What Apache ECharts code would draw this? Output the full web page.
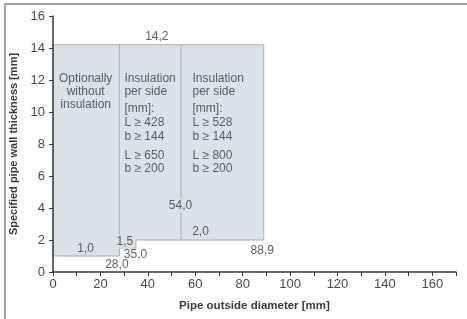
<!DOCTYPE html>
<html>
<head>
<meta charset="utf-8">
<script src="https://cdn.jsdelivr.net/npm/echarts@6/dist/echarts.min.js"></script>
<style>
html, body { margin: 0; padding: 0; background: #fff; }
#frame { position: absolute; left: 4px; top: 3px; width: 463px; height: 316px;
         border-top: 2px solid #a3a3a3; border-left: 2px solid #a3a3a3; box-sizing: border-box; }
#chart { position: absolute; left: 0; top: 0; width: 467px; height: 319px; }
</style>
</head>
<body>
<div id="frame"></div>
<div id="chart"></div>
<script>
// outline of the permitted range: pipe outside diameter [mm] / wall thickness [mm]
const areaX = [0, 88.9, 88.9, 35, 35, 28, 28, 0];
const areaY = [14.2, 14.2, 2.0, 2.0, 1.5, 1.5, 1.0, 1.0];

// zone dividers (diameter where the insulation rule changes)
const dividerX = [28, 54];
const dividerBottom = [1.5, 2.0];

// value labels shown on the chart
const markValues = [14.2, 1.0, 28.0, 1.5, 35.0, 54.0, 2.0, 88.9];

// zone descriptions
const zoneTexts = [
    ['Optionally', 'without', 'insulation'],
    ['Insulation', 'per side', '[mm]:', 'L ≥ 428', 'b ≥ 144', 'L ≥ 650', 'b ≥ 200'],
    ['Insulation', 'per side', '[mm]:', 'L ≥ 528', 'b ≥ 144', 'L ≥ 800', 'b ≥ 200']
];

const xTicks = [0, 170, 10];
const yTicks = [0, 16, 2];

const FILL = '#dce1e7';
const EDGE = '#a8afb7';
const TEXT = '#3a3a3a';
const FONT = '"Liberation Sans", Arial, sans-serif';
const NAME_FONT = '"Liberation Sans Narrow", "Liberation Sans", Arial, sans-serif';

const fmt = v => v.toFixed(1).replace('.', ',');

// where each value label sits: data anchor + pixel offset
const markPlace = [
    { at: [44, 14.2], off: [0, -8] },
    { at: [14, 1.0], off: [0, -7] },
    { at: [28, 1.0], off: [-2, 9] },
    { at: [28, 1.5], off: [6, -6], bg: true },
    { at: [35, 1.5], off: [0, 7] },
    { at: [54, 2.0], off: [0, -34], bg: true },
    { at: [54, 2.0], off: [20, -8] },
    { at: [88.9, 2.0], off: [-1, 11] }
];

const zonePlace = [
    { at: [14, 14.2], off: [0, 28], align: 'center' },
    { at: [28, 14.2], off: [5.5, 28], align: 'left' },
    { at: [54, 14.2], off: [12, 28], align: 'left' }
];

function zoneRich(lines) {
    if (lines.length === 3) return lines.map(l => '{a|' + l + '}').join('\n');
    return [
        '{a|' + lines[0] + '}', '{a|' + lines[1] + '}', '{s| }',
        '{a|' + lines[2] + '}', '{b|' + lines[3] + '}', '{a|' + lines[4] + '}', '{t| }',
        '{a|' + lines[5] + '}', '{a|' + lines[6] + '}'
    ].join('\n');
}

const chart = echarts.init(document.getElementById('chart'));

const markData = markValues.map((v, i) => ({
    value: markPlace[i].at,
    label: {
        position: markPlace[i].off,
        formatter: fmt(v),
        backgroundColor: markPlace[i].bg ? FILL : 'transparent',
        padding: markPlace[i].bg ? [1, 1] : 0
    }
}));

const zoneData = zoneTexts.map((lines, i) => ({
    value: zonePlace[i].at,
    label: {
        position: zonePlace[i].off,
        align: zonePlace[i].align,
        verticalAlign: 'top',
        formatter: zoneRich(lines)
    }
}));

const option = {
    animation: false,
    grid: { left: 53, right: 11, top: 16, bottom: 47 },
    xAxis: {
        type: 'value',
        min: xTicks[0], max: xTicks[1], interval: xTicks[2],
        z: 5,
        name: 'Pipe outside diameter [mm]',
        nameLocation: 'middle',
        nameGap: 28,
        nameTextStyle: { fontFamily: NAME_FONT, fontWeight: 'bold', fontSize: 11.5, color: TEXT },
        axisLine: { lineStyle: { color: '#3a3a3a', width: 1.5 } },
        axisTick: { show: true, length: 4, lineStyle: { color: '#3a3a3a' } },
        axisLabel: {
            margin: 6, fontFamily: FONT, fontSize: 13, color: '#4a4a4a',
            formatter: v => (v % 20 === 0 && v <= 160) ? String(v) : ''
        },
        splitLine: { show: false }
    },
    yAxis: {
        type: 'value',
        min: yTicks[0], max: yTicks[1], interval: yTicks[2],
        z: 5,
        name: 'Specified pipe wall thickness [mm]',
        nameLocation: 'middle',
        nameGap: 30,
        nameTextStyle: { fontFamily: NAME_FONT, fontWeight: 'bold', fontSize: 11, color: TEXT },
        axisLine: { show: true, lineStyle: { color: '#3a3a3a', width: 1.5 } },
        axisTick: { show: true, length: 4, lineStyle: { color: '#3a3a3a' } },
        axisLabel: { margin: 8, fontFamily: FONT, fontSize: 13, color: '#4a4a4a' },
        splitLine: { show: false }
    },
    series: [
        {
            type: 'custom',
            z: 1,
            data: [0],
            renderItem: (params, api) => ({
                type: 'polygon',
                shape: { points: areaX.map((x, i) => api.coord([x, areaY[i]])) },
                style: { fill: FILL, stroke: EDGE, lineWidth: 1 }
            })
        },
        {
            type: 'custom',
            z: 2,
            data: dividerX.map((x, i) => [x, dividerBottom[i]]),
            renderItem: (params, api) => {
                const top = api.coord([api.value(0), areaY[0]]);
                const bot = api.coord([api.value(0), api.value(1)]);
                return {
                    type: 'line',
                    shape: { x1: top[0], y1: top[1], x2: bot[0], y2: bot[1] },
                    style: { stroke: EDGE, lineWidth: 1 }
                };
            }
        },
        {
            type: 'scatter',
            z: 4,
            symbolSize: 1,
            itemStyle: { color: 'transparent' },
            silent: true,
            label: {
                show: true, align: 'center', verticalAlign: 'middle',
                fontFamily: FONT, fontSize: 12, color: TEXT
            },
            data: markData
        },
        {
            type: 'scatter',
            z: 4,
            symbolSize: 1,
            itemStyle: { color: 'transparent' },
            silent: true,
            label: {
                show: true,
                fontFamily: FONT, fontSize: 12, color: TEXT,
                rich: {
                    a: { fontFamily: FONT, fontSize: 12, color: TEXT, lineHeight: 13 },
                    b: { fontFamily: FONT, fontSize: 12, color: TEXT, lineHeight: 15.5 },
                    s: { fontSize: 1, lineHeight: 3.5 },
                    t: { fontSize: 1, lineHeight: 6 }
                }
            },
            data: zoneData
        }
    ]
};

chart.setOption(option);
</script>
</body>
</html>
